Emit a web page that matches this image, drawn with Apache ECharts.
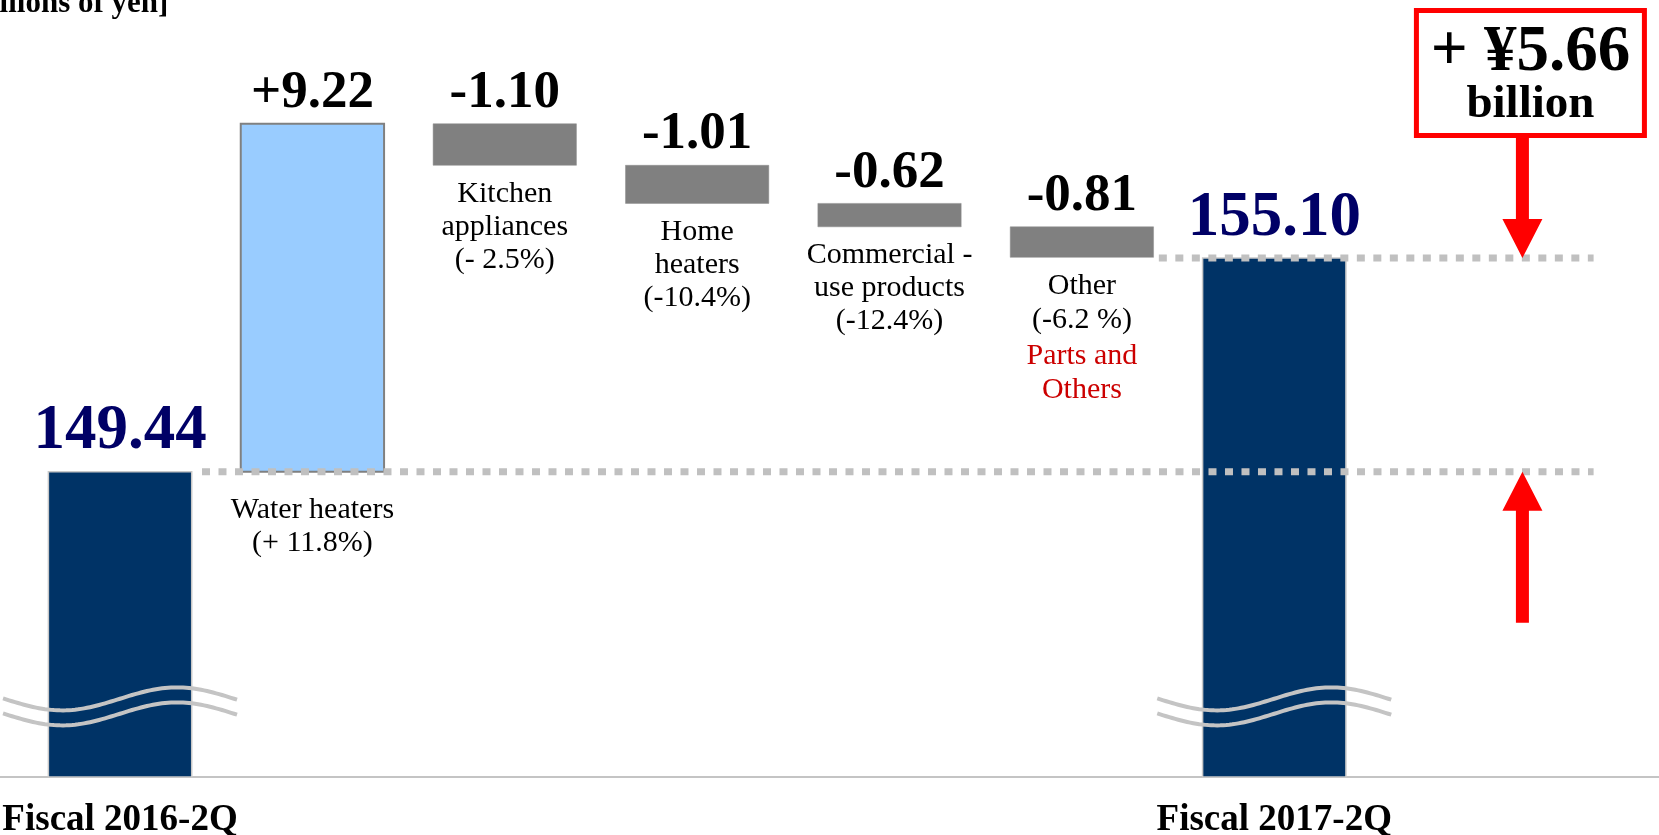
<!DOCTYPE html>
<html>
<head>
<meta charset="utf-8">
<script src="https://cdn.jsdelivr.net/npm/echarts@6/dist/echarts.min.js"></script>
<style>
html,body{margin:0;padding:0;background:#ffffff;}
#chart{width:1659px;height:835px;}
</style>
</head>
<body>
<div id="chart"></div>
<script>
// ---------------- data ----------------
const categories = ['Fiscal 2016-2Q', 'Water heaters', 'Kitchen appliances', 'Home heaters', 'Commercial-use products', 'Other', 'Fiscal 2017-2Q'];
const startTotal = 149.44;
const endTotal = 155.10;
const changes = [9.22, -1.10, -1.01, -0.62, -0.81];
const changeValueLabels = ['+9.22', '-1.10', '-1.01', '-0.62', '-0.81'];
const changeNameLabels = ['Water heaters\n(+ 11.8%)', 'Kitchen\nappliances\n(- 2.5%)', 'Home\nheaters\n(-10.4%)', 'Commercial -\nuse products\n(-12.4%)', 'Other\n(-6.2 %)'];
const otherNote = 'Parts and\nOthers';
const totalLabels = ['149.44', '155.10'];
const totalChangeLabels = ['+ \u00a55.66', 'billion'];
const unitLabel = '[Billions of yen]';

// ---------------- layout ----------------
const Y_MIN = 141.35, Y_MAX = 161.94;     // broken value axis
const X_MIN = -0.624, X_MAX = 8.0;
const WAVE_V = 143.42;                    // where the axis-break waves sit
const ARROW_X = 7.29;
const GUIDE_END = 7.66;
const SERIF = '"Liberation Serif", "Times New Roman", serif';

// build waterfall rows from the arrays
const rows = [];
rows.push({ i: 0, lo: Y_MIN, hi: startTotal, kind: 'total', top: totalLabels[0], bottom: categories[0] });
let cum = startTotal;
changes.forEach((c, k) => {
  const next = +(cum + c).toFixed(2);
  rows.push({ i: k + 1, lo: Math.min(cum, next), hi: Math.max(cum, next), kind: c >= 0 ? 'up' : 'down',
              top: changeValueLabels[k], name: changeNameLabels[k] });
  cum = next;
});
rows.push({ i: 6, lo: Y_MIN, hi: endTotal, kind: 'total', top: totalLabels[1], bottom: categories[6] });

const barStyles = {
  total: { fill: '#003366', stroke: '#c8c8c8', lineWidth: 1.5 },
  up:    { fill: '#99ccff', stroke: '#808080', lineWidth: 2 },
  down:  { fill: '#808080', stroke: '#8c8c8c', lineWidth: 0.5 }
};

function renderBar(params, api) {
  const r = rows[params.dataIndex];
  const pHi = api.coord([api.value(0), api.value(2)]);
  const pLo = api.coord([api.value(0), api.value(1)]);
  const w = api.size([1, 0])[0] * 0.745;
  const cx = pHi[0];
  const children = [{
    type: 'rect',
    shape: { x: cx - w / 2, y: pHi[1], width: w, height: pLo[1] - pHi[1] },
    style: barStyles[r.kind]
  }];
  if (r.kind === 'total') {
    children.push({ type: 'text', style: { text: r.top, x: cx, y: pHi[1] - 8, align: 'center', verticalAlign: 'bottom',
      fontFamily: SERIF, fontWeight: 'bold', fontSize: 63, lineHeight: 63, fill: '#000066' } });
    children.push({ type: 'text', style: { text: r.bottom, x: cx, y: pLo[1] + 25, align: 'center', verticalAlign: 'top',
      fontFamily: SERIF, fontWeight: 'bold', fontSize: 37, lineHeight: 37, fill: '#000000' } });
  } else {
    children.push({ type: 'text', style: { text: r.top, x: cx, y: pHi[1] - 4, align: 'center', verticalAlign: 'bottom',
      fontFamily: SERIF, fontWeight: 'bold', fontSize: 53, lineHeight: 53, fill: '#000000' } });
    const gap = r.kind === 'up' ? 22 : 12;
    const lh = r.i === 5 ? 34 : 33;
    const ty = pLo[1] + gap;
    children.push({ type: 'text', style: { text: r.name, x: cx, y: ty, align: 'center', verticalAlign: 'top',
      fontFamily: SERIF, fontSize: 30, lineHeight: lh, fill: '#000000' } });
    if (r.i === 5) {
      children.push({ type: 'text', style: { text: otherNote, x: cx, y: ty + 2 * lh + 2, align: 'center', verticalAlign: 'top',
        fontFamily: SERIF, fontSize: 30, lineHeight: lh, fill: '#cc0000' } });
    }
  }
  return { type: 'group', children };
}

function renderGuide(params, api) {
  const a = api.coord([api.value(0), api.value(2)]);
  const b = api.coord([api.value(1), api.value(2)]);
  return { type: 'line', shape: { x1: a[0], y1: a[1], x2: b[0], y2: b[1] },
    style: { stroke: '#c0c0c0', lineWidth: 7, lineDash: [8, 8.5] } };
}

function renderWave(params, api) {
  const c = api.coord([api.value(0), api.value(1)]);
  const mk = (off) => {
    const pts = [];
    for (let dx = -117; dx <= 117; dx += 3) {
      pts.push([c[0] + dx, c[1] + off + 11.5 * Math.cos(2 * Math.PI * (dx + 58) / 230)]);
    }
    return pts;
  };
  return { type: 'group', children: [
    { type: 'polyline', shape: { points: mk(0) }, style: { stroke: '#c4c4c4', lineWidth: 4, fill: null } },
    { type: 'polyline', shape: { points: mk(15) }, style: { stroke: '#c4c4c4', lineWidth: 4, fill: null } }
  ] };
}

function renderArrows(params, api) {
  const x = api.value(0);
  const top = api.coord([x, Y_MAX]);
  const dn = api.coord([x, api.value(1)]);
  const up = api.coord([x, api.value(2)]);
  const cx = dn[0];
  const boxTop = top[1] + 8, boxH = 130, boxW = 233, bcx = cx + 8;
  const boxBottom = boxTop + boxH;
  const sh = 6.5, hh = 20, hl = 39;
  const red = '#ff0000';
  return { type: 'group', children: [
    { type: 'polygon', shape: { points: [[cx - sh, boxBottom], [cx + sh, boxBottom], [cx + sh, dn[1] - hl], [cx + hh, dn[1] - hl],
        [cx, dn[1]], [cx - hh, dn[1] - hl], [cx - sh, dn[1] - hl]] }, style: { fill: red } },
    { type: 'polygon', shape: { points: [[cx, up[1]], [cx + hh, up[1] + hl], [cx + sh, up[1] + hl], [cx + sh, up[1] + 151],
        [cx - sh, up[1] + 151], [cx - sh, up[1] + hl], [cx - hh, up[1] + hl]] }, style: { fill: red } },
    { type: 'rect', shape: { x: bcx - boxW / 2 + 2.5, y: boxTop + 2.5, width: boxW - 5, height: boxH - 5 },
      style: { fill: '#ffffff', stroke: red, lineWidth: 5 } },
    { type: 'text', style: { text: totalChangeLabels[0], x: bcx, y: boxTop + 45, align: 'center', verticalAlign: 'middle',
      fontFamily: SERIF, fontWeight: 'bold', fontSize: 65, lineHeight: 65, fill: '#000000' } },
    { type: 'text', style: { text: totalChangeLabels[1], x: bcx, y: boxTop + 97, align: 'center', verticalAlign: 'middle',
      fontFamily: SERIF, fontWeight: 'bold', fontSize: 47, lineHeight: 47, fill: '#000000' } }
  ] };
}

const chart = echarts.init(document.getElementById('chart'));
chart.setOption({
  animation: false,
  backgroundColor: '#ffffff',
  grid: { left: 0, right: 0, top: 0, bottom: 58 },
  xAxis: {
    type: 'value', min: X_MIN, max: X_MAX,
    axisLine: { show: true, onZero: false, lineStyle: { color: '#c4c4c4', width: 2 } },
    axisTick: { show: false }, axisLabel: { show: false }, splitLine: { show: false }
  },
  yAxis: {
    type: 'value', min: Y_MIN, max: Y_MAX, show: false, splitLine: { show: false }
  },
  graphic: [{
    type: 'text', x: -40, y: 3.5,
    style: { text: unitLabel, fontFamily: SERIF, fontWeight: 'bold', fontSize: 31, verticalAlign: 'middle', fill: '#000000' }
  }],
  series: [
    { type: 'custom', name: 'bars', clip: false, z: 2, renderItem: renderBar,
      encode: { x: 0, y: [1, 2] }, data: rows.map(r => [r.i, r.lo, r.hi]) },
    { type: 'custom', name: 'waves', clip: false, z: 3, renderItem: renderWave,
      encode: { x: 0, y: 1 }, data: [[0, WAVE_V], [6, WAVE_V]] },
    { type: 'custom', name: 'guides', clip: false, z: 4, renderItem: renderGuide,
      encode: { x: [0, 1], y: 2 }, data: [[0.426, GUIDE_END, startTotal], [5.40, GUIDE_END, endTotal]] },
    { type: 'custom', name: 'arrows', clip: false, z: 5, renderItem: renderArrows,
      encode: { x: 0, y: [1, 2] }, data: [[ARROW_X, endTotal, startTotal]] }
  ]
});
</script>
</body>
</html>
